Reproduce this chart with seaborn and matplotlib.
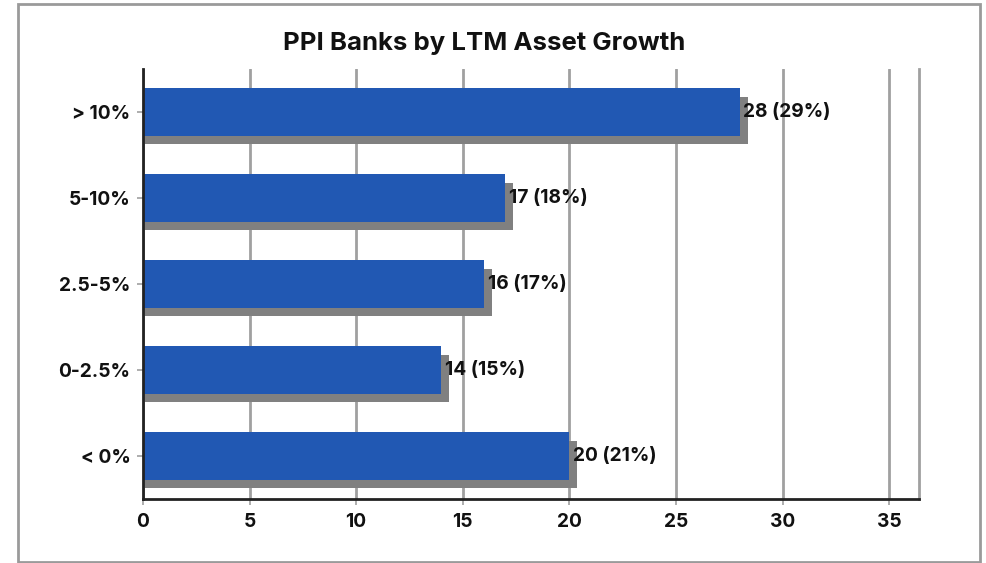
import matplotlib
matplotlib.use("Agg")
import matplotlib.pyplot as plt
import seaborn as sns
import pandas as pd
from matplotlib.patches import Rectangle

categories = ["> 10%", "5-10%", "2.5-5%", "0-2.5%", "< 0%"]
counts = [28, 17, 16, 14, 20]
shares = ["29%", "18%", "17%", "15%", "21%"]
x_ticks = [0, 5, 10, 15, 20, 25, 30, 35]
title = "PPI Banks by LTM Asset Growth"

df = pd.DataFrame({"cat": categories, "count": counts, "share": shares})

sns.set_theme(style="white")
plt.rcParams["font.family"] = ["Inter", "DejaVu Sans"]

fig = plt.figure(figsize=(9.87, 5.63), dpi=100)
ax = fig.add_axes([143/987, 1-499/563, (919-143)/987, (499-69)/563])

BAR_W = 0.55
SH_DX = 0.375   # shadow offset (data units)
SH_DY = 0.095

# shadow bars (drawn from the same data, offset right/down)
ax.barh([i + SH_DY for i in range(len(counts))], [c + SH_DX for c in counts],
        height=BAR_W, left=0, color="#808080", edgecolor="none", zorder=2)

sns.barplot(data=df, y="cat", x="count", order=categories, color="#2158B3",
            saturation=1, width=BAR_W, ax=ax, orient="h", zorder=3, edgecolor="none")

for i, (c, s) in enumerate(zip(counts, shares)):
    ax.annotate(f"{c} ({s})", xy=(c, i), xytext=(2.5, 0), textcoords="offset points",
                ha="left", va="center", fontsize=13.8, fontweight="bold", color="#111111", zorder=5)

ax.set_xlim(0, 36.4)
ax.set_ylim(4.5, -0.5)
ax.set_xticks(x_ticks)
ax.set_xticklabels([str(t) for t in x_ticks], fontsize=13.8, fontweight="bold", color="#111111")
ax.set_yticks(range(len(categories)))
ax.set_yticklabels(categories, fontsize=13.8, fontweight="bold", color="#111111")
ax.set_xlabel("")
ax.set_ylabel("")
ax.grid(axis="x", color="#A0A0A0", linewidth=2, zorder=0)
ax.grid(axis="y", visible=False)
ax.set_axisbelow(True)
ax.tick_params(axis="both", which="both", length=4, width=1.2, color="#A0A0A0", bottom=True, left=True)
ax.tick_params(axis="x", pad=6)
ax.tick_params(axis="y", pad=5)
for side in ["left", "bottom"]:
    ax.spines[side].set_color("#222222")
    ax.spines[side].set_linewidth(2)
    ax.spines[side].set_zorder(4)
ax.spines["top"].set_visible(False)
ax.spines["right"].set_color("#A0A0A0")
ax.spines["right"].set_linewidth(2)

fig.text(484/987, 1-50/563, title, ha="center", va="baseline", fontsize=18.5, fontweight="bold", color="#111111")

fig.patches.append(Rectangle((18/987, 1-562/563), (980-18)/987, (562-4)/563, transform=fig.transFigure,
                             fill=False, edgecolor="#9A9A9A", linewidth=2))

fig.savefig("out.png", dpi=100)
